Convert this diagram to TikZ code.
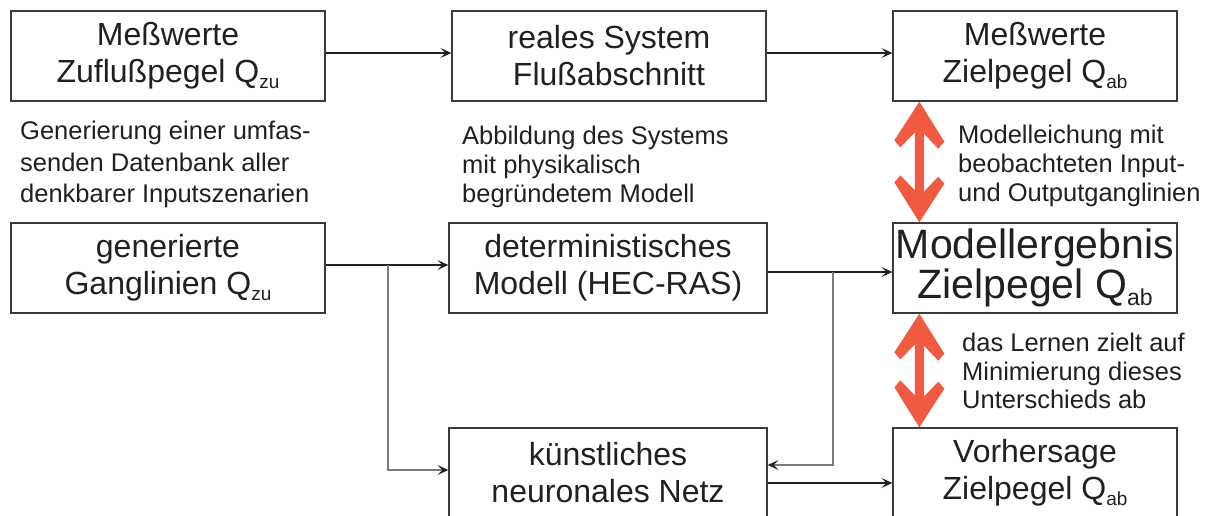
\documentclass[tikz,border=0pt]{standalone}
\usepackage{fontspec}
\setmainfont{Liberation Sans}
\usetikzlibrary{arrows.meta}
\definecolor{ink}{HTML}{231F20}
\definecolor{frame}{HTML}{3A3A3A}
\definecolor{branchgray}{HTML}{7A7A7A}
\definecolor{redarrow}{HTML}{F05A40}
\newcommand{\Qsub}[1]{\raisebox{-6pt}{\fontsize{19}{19}\selectfont #1}}
\newcommand{\Qsubb}[1]{\raisebox{-7pt}{\fontsize{23}{23}\selectfont #1}}
\tikzset{
  box/.style={draw=frame, line width=1.3pt, minimum height=90pt, inner sep=0pt,
              align=center, text=ink, font=\fontsize{32}{37}\selectfont},
  bigbox/.style={box, font=\fontsize{41}{40}\selectfont},
  note/.style={align=left, inner sep=0pt, anchor=north west, text=ink},
  conn/.style={draw=ink, line width=1.2pt, -{Stealth[length=11pt,width=10pt,inset=5pt]}},
  branchend/.style={draw=branchgray, line width=1.2pt, -{Stealth[length=11pt,width=10pt,inset=5pt,color=ink]}},
  dbl/.style={fill=redarrow, draw=none}
}
\begin{document}
\begin{tikzpicture}[x=1pt,y=-1pt]
\useasboundingbox (0,0) rectangle (1208,515);
\clip (0,0) rectangle (1208,515);
% boxes
\node[box, minimum width=314pt] (A) at (168,56) {Meßwerte\\Zuflußpegel Q\Qsub{zu}};
\node[box, minimum width=314pt] (B) at (609,56) {reales System\\Flußabschnitt};
\node[box, minimum width=284pt] (C) at (1035,56) {Meßwerte\\Zielpegel Q\Qsub{ab}};
\node[box, minimum width=314pt] (D) at (168,268) {generierte\\Ganglinien Q\Qsub{zu}};
\node[box, minimum width=318pt] (E) at (608,268) {deterministisches\\Modell (HEC-RAS)};
\node[bigbox, minimum width=284pt] (F) at (1035,268) {Modellergebnis\\Zielpegel Q\Qsubb{ab}};
\node[box, minimum width=318pt] (G) at (608,473) {künstliches\\neuronales Netz};
\node[box, minimum width=284pt] (H) at (1035,473) {Vorhersage\\Zielpegel Q\Qsub{ab}};
% notes
\node[note, font=\fontsize{25.5}{31.6}\selectfont] (n1) at (20,121) {Generierung einer umfas-\\senden Datenbank aller\\denkbarer Inputszenarien};
\node[note, font=\fontsize{25.5}{29}\selectfont] (n2) at (462,126) {Abbildung des Systems\\mit physikalisch\\begründetem Modell};
\node[note, font=\fontsize{25.5}{29}\selectfont] (n3) at (958,125) {Modelleichung mit\\beobachteten Input-\\und Outputganglinien};
\node[note, font=\fontsize{25.5}{28.5}\selectfont] (n4) at (962,333) {das Lernen zielt auf\\Minimierung dieses\\Unterschieds ab};
% connectors
\draw[conn] (A.east |- 0,53) -- (B.west |- 0,53);
\draw[conn] (B.east |- 0,53) -- (C.west |- 0,53);
\draw[conn] (D.east |- 0,265) -- (E.west |- 0,265);
\draw[conn] (E.east |- 0,272) -- (F.west |- 0,272);
\draw[conn] (G.east |- 0,483) -- (H.west |- 0,483);
\coordinate (b1) at (388,265);
\coordinate (b2) at (833,272);
\draw[branchend] (b1) -- (388,470) -- (G.west |- 0,470);
\draw[branchend] (b2) -- (833,465) -- (G.east |- 0,465);
% red double arrows
\coordinate (r1) at ([xshift=27pt]C.south west);
\coordinate (r2) at ([xshift=27pt]F.north west);
\coordinate (r3) at ([xshift=27pt]F.south west);
\coordinate (r4) at ([xshift=27pt]H.north west);
\fill[dbl] (r1) -- ++(25,40) -- ++(-6,7) -- ++(-14.5,-15) -- ++(0,58) -- ++(14.5,-15) -- ++(6,7) -- (r2) -- ++(-25,-40) -- ++(6,-7) -- ++(14.5,15) -- ++(0,-58) -- ++(-14.5,15) -- ++(-6,-7) -- cycle;
\fill[dbl] (r3) -- ++(25,40) -- ++(-6,7) -- ++(-14.5,-15) -- ++(0,51) -- ++(14.5,-15) -- ++(6,7) -- (r4) -- ++(-25,-40) -- ++(6,-7) -- ++(14.5,15) -- ++(0,-51) -- ++(-14.5,15) -- ++(-6,-7) -- cycle;
\end{tikzpicture}
\end{document}
